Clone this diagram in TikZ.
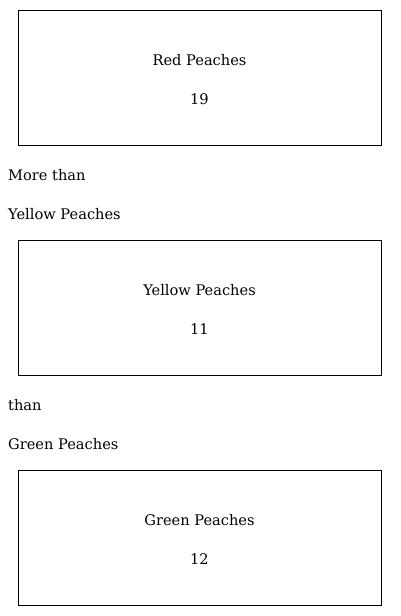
\documentclass[tikz,border=0pt]{standalone}
\usepackage{fontspec}
\setmainfont{DejaVu Serif}
\begin{document}
\begin{tikzpicture}[x=1pt,y=-1pt,
  box/.style={draw=black,line width=0.9pt,minimum width=363pt,minimum height=135pt,inner sep=0pt},
  txt/.style={font=\fontsize{14.6}{17}\selectfont,inner sep=0pt},
  lbl/.style={txt,anchor=west}]
\useasboundingbox (0,0) rectangle (400,616);
\node[box] (r) at (199.5,77.5) {};
\node[txt] (rt) at (199.5,60) {Red Peaches};
\node[txt] (rn) at (199.5,99) {19};
\node[lbl] (m1) at (8,175) {More than};
\node[lbl] (m2) at (8,214) {Yellow Peaches};
\node[box] (y) at (199.5,307.5) {};
\node[txt] (yt) at (199.5,290) {Yellow Peaches};
\node[txt] (yn) at (199.5,329) {11};
\node[lbl] (t1) at (8,405) {than};
\node[lbl] (t2) at (8,444) {Green Peaches};
\node[box] (g) at (199.5,537.5) {};
\node[txt] (gt) at (199.5,520) {Green Peaches};
\node[txt] (gn) at (199.5,559) {12};
\end{tikzpicture}
\end{document}
